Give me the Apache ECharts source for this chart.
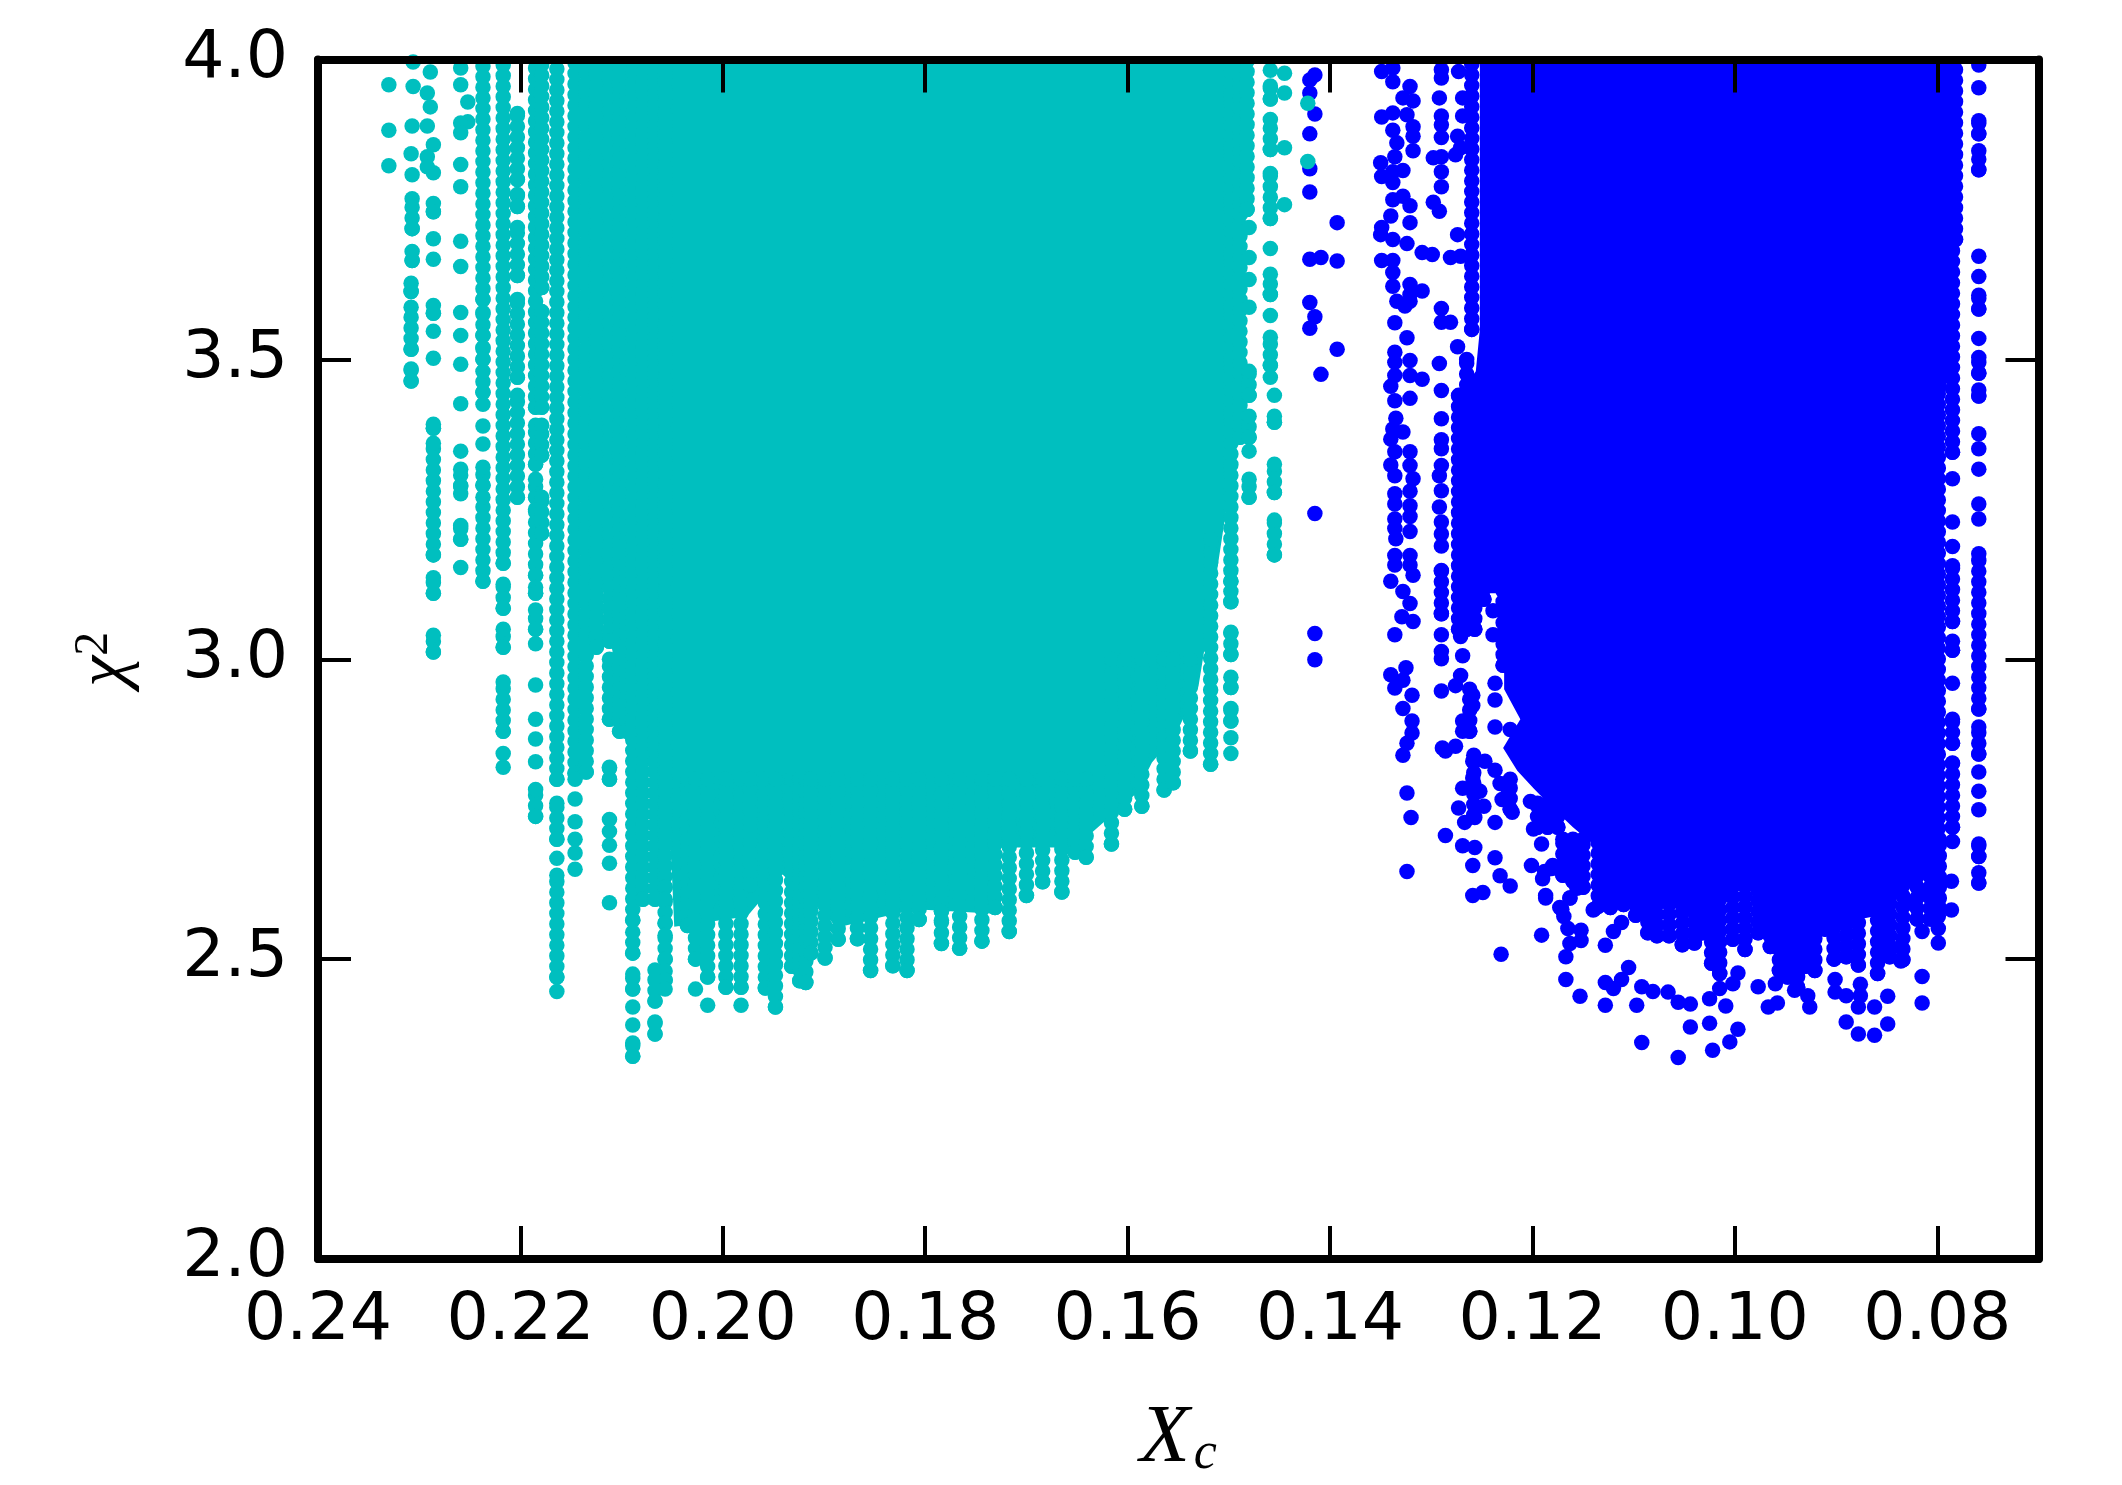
<!DOCTYPE html>
<html><head><meta charset="utf-8">
<style>html,body{margin:0;padding:0;background:#fff}#c{width:2122px;height:1485px}</style>
<script src="https://cdn.jsdelivr.net/npm/echarts@6/dist/echarts.min.js"></script>
</head><body><div id="c"></div>
<script>
const xTickValues = [0.24,0.22,0.20,0.18,0.16,0.14,0.12,0.10,0.08];
const yTickValues = [2.0,2.5,3.0,3.5,4.0];
const xLimits = [0.07,0.24];
const yLimits = [2,4];

// solid body of each cloud: outline of the fully overlapped region [Xc, chi2]
const cyanMass = [[.2133,4.03],[.2133,3.30],[.2112,3.05],[.2100,2.90],[.2082,2.87],[.2070,2.80],[.2055,2.80],[.2050,2.63],[.2048,2.554],[.1976,2.571],[.1941,2.641],[.1886,2.553],[.1810,2.583],[.1735,2.576],[.1727,2.686],[.1652,2.686],[.1591,2.777],[.1576,2.828],[.1553,2.873],[.1530,2.955],[.1512,3.144],[.1497,3.312],[.1489,3.479],[.1489,3.728],[.1482,4.03]];
const blueMass = [[.1252,4.03],[.1252,3.55],[.1256,3.48],[.1272,3.44],[.1272,3.11],[.1228,3.11],[.1228,2.95],[.1212,2.90],[.1229,2.852],[.1215,2.814],[.1199,2.785],[.1180,2.752],[.1160,2.72],[.1146,2.70],[.1135,2.686],[.1135,2.60],[.1110,2.60],[.1081,2.586],[.1032,2.582],[.0986,2.63],[.0977,2.56],[.0914,2.554],[.0842,2.578],[.0840,2.606],[.0815,2.634],[.0799,2.663],[.0799,3.40],[.0785,3.50],[.0782,3.70],[.0782,4.03]];

// runs of touching points in one column: [Xc, top chi2, bottom chi2]
const cyanRuns = [
[.2307,3.768,3.718],[.2307,3.68,3.665],[.2308,3.627,3.613],[.2308,3.587,3.517],[.2308,3.484,3.464],
[.2286,3.76,3.746],[.2286,3.59,3.577],[.2286,3.392,3.385],[.2286,3.36,3.174],[.2286,3.136,3.11],[.2286,3.04,3.012],
[.2259,3.317,3.289],[.2259,3.223,3.20],
[.2237,4.03,3.60],[.2237,3.578,3.54],[.2237,3.52,3.50],[.2237,3.48,3.445],[.2237,3.32,3.29],[.2237,3.27,3.13],
[.2217,4.03,3.16],[.2217,3.125,3.085],[.2217,3.05,3.02],[.2217,2.962,2.88],
[.2203,3.91,3.80],[.2203,3.775,3.755],[.2203,3.72,3.64],[.2203,3.60,3.47],[.2203,3.44,3.27],
[.2185,4.03,3.42],[.2185,3.39,3.325],[.2185,3.30,3.27],[.2185,3.25,3.14],[.2185,3.12,3.11],[.2185,3.082,3.05],[.2185,2.783,2.738],
[.2179,4.03,3.62],[.2179,3.58,3.42],[.2179,3.39,3.34],[.2179,3.27,3.21],
[.2164,4.03,2.80],[.2164,2.76,2.70],[.2164,2.64,2.47],
[.2146,4.03,2.81],[.2135,4.03,2.812],[.2125,4.03,3.02],
[.2112,4.03,3.03],[.2112,3.0,2.90],[.2112,2.82,2.80],[.2102,4.03,2.88],[.2095,4.03,2.88],
[.2089,4.03,2.565],[.2089,2.545,2.51],[.2089,2.475,2.45],[.2089,2.36,2.338],
[.2079,4.03,2.60],[.2067,4.03,2.60],[.2067,2.482,2.43],[.2067,2.395,2.375],
[.2057,4.03,2.62],[.2057,2.60,2.56],[.2057,2.54,2.50],[.2057,2.48,2.465],
[.2035,2.8,2.556],[.2027,2.8,2.50],[.2015,2.8,2.47],[.1997,2.8,2.453],[.1982,2.8,2.453],[.1973,2.8,2.624],[.1958,2.8,2.452],[.1948,2.8,2.42],[.1932,2.8,2.488],[.1924,2.8,2.464],[.1918,2.8,2.461],[.1913,2.8,2.51],[.1899,2.8,2.502],[.1886,2.8,2.533],[.1867,2.8,2.534],[.1854,2.8,2.481],[.1832,2.8,2.489],[.1818,2.8,2.481],[.1806,2.8,2.566],[.1784,2.8,2.58],[.1784,2.565,2.526],[.1766,2.8,2.518],[.1744,2.8,2.53],[.1731,2.8,2.586],[.1717,2.8,2.546],[.1700,2.8,2.606],[.1684,2.8,2.629],[.1665,2.8,2.612],[.1652,2.8,2.678],[.1641,2.8,2.67],[.1616,3,2.692],[.1603,3,2.75],[.1586,3,2.755],[.1564,3,2.782],[.1555,3,2.794],[.1538,3,2.847],[.1518,3.2,2.825],
[.1498,4.03,3.13],[.1498,3.113,3.096],[.1498,3.045,3.008],[.1498,2.97,2.953],[.1498,2.918,2.897],
[.1489,4.03,3.37],[.1482,4.03,3.75],[.1480,3.48,3.44],[.1480,3.405,3.37],[.1480,3.30,3.27],
[.1459,3.956,3.934],[.1459,3.90,3.85],[.1459,3.81,3.735],[.1459,3.642,3.608],[.1459,3.537,3.49],
[.1455,3.405,3.395],[.1455,3.325,3.278],[.1455,3.232,3.174]
];
const blueRuns = [
[.1260,4.03,3.55],[.1265,3.50,3.44],[.1273,3.44,3.05],[.1265,3.14,3.05],[.1257,3.14,3.05],[.1248,3.14,3.10],[.1229,3.13,2.99],
[.1262,2.95,2.88],[.1258,2.84,2.74],[.1222,2.80,2.75],[.1195,2.76,2.72],[.1185,2.76,2.72],[.1175,2.76,2.72],[.1170,2.70,2.64],[.1160,2.70,2.63],[.1150,2.70,2.62],[.1130,2.70,2.60],[.1115,2.70,2.60],
[.1135,2.7,2.588],[.1123,2.7,2.586],[.1110,2.7,2.591],[.1098,2.7,2.573],[.1086,2.7,2.544],[.1077,2.7,2.539],[.1065,2.7,2.539],[.1052,2.7,2.524],[.1040,2.7,2.527],[.1032,2.7,2.544],[.1023,2.7,2.493],[.1015,2.7,2.476],[.1002,2.7,2.533],[.0990,2.7,2.516],[.0977,2.7,2.544],[.0965,2.7,2.521],[.0956,2.7,2.481],[.0948,2.7,2.47],[.0938,2.7,2.453],[.0930,2.7,2.488],[.0921,2.7,2.481],[.0911,2.7,2.55],[.0902,2.7,2.50],[.0890,2.7,2.504],[.0878,2.7,2.49],[.0859,2.7,2.476],[.0847,2.7,2.504],[.0834,2.7,2.499],[.0820,2.7,2.567],[.0807,2.7,2.567],[.0798,2.7,2.584],
[.0799,3.53,2.70],[.0782,4.03,3.70],
[.0785,3.70,3.345],[.0785,3.156,3.063],[.0785,3.03,3.015],[.0785,2.90,2.86],[.0785,2.827,2.72],
[.0759,3.898,3.876],[.0759,3.848,3.816],[.0759,3.607,3.584],[.0759,3.503,3.477],[.0759,3.449,3.439],[.0759,3.176,2.917],[.0759,2.887,2.842],[.0759,2.692,2.671],[.0759,2.644,2.627],
[.1290,3.148,3.076]
];

// separate points: [Xc, chi2]
const cyanDots = [
[.2330,3.958],[.2330,3.882],[.2330,3.823],
[.2306,3.955],[.2307,3.889],[.2308,3.843],[.2307,3.808],[.2306,3.996],
[.2289,3.979],[.2292,3.944],[.2289,3.921],[.2292,3.889],[.2286,3.858],[.2292,3.838],[.2286,3.811],[.2292,3.821],
[.2286,3.701],[.2286,3.667],[.2286,3.547],[.2286,3.502],
[.2259,3.986],[.2259,3.958],[.2252,3.929],[.2252,3.896],[.2259,3.894],[.2259,3.878],[.2259,3.825],[.2259,3.788],[.2259,3.697],[.2259,3.655],[.2259,3.578],[.2259,3.540],[.2259,3.492],[.2259,3.426],[.2259,3.347],[.2259,3.276],[.2259,3.153],
[.2237,3.425],[.2237,3.389],[.2237,3.359],
[.2217,2.843],[.2217,2.82],
[.2185,3.026],[.2185,2.957],[.2185,2.90],[.2185,2.867],[.2185,2.829],
[.2164,2.668],[.2164,2.446],
[.2146,2.80],[.2146,2.767],[.2146,2.729],[.2146,2.70],[.2146,2.677],[.2146,2.65],
[.2112,2.733],[.2112,2.713],[.2112,2.69],[.2112,2.66],[.2112,2.594],
[.2089,2.42],[.2089,2.39],[.2057,2.45],
[.2027,2.45],[.2015,2.423],[.1982,2.423],
[.1498,2.869],[.1498,2.843],
[.1480,3.72],[.1480,3.67],[.1480,3.633],[.1480,3.587],[.1480,3.347],
[.1459,3.982],[.1459,3.685],[.1459,3.573],[.1459,3.47],[.1455,3.44],
[.1445,3.977],[.1445,3.944],[.1445,3.853],[.1445,3.758],
[.1422,3.927],[.1422,3.83]
];
const blueDots = [
[.1415,3.974],[.1420,3.966],[.1420,3.944],[.1415,3.909],[.1420,3.876],[.1420,3.818],[.1420,3.779],[.1393,3.728],[.1420,3.667],[.1409,3.670],[.1393,3.664],[.1420,3.595],[.1415,3.571],[.1420,3.552],[.1393,3.517],[.1409,3.475],[.1415,3.243],[.1415,3.043],[.1415,2.999],
[.1349,3.980],[.1338,3.986],[.1338,3.963],[.1321,3.955],[.1328,3.936],[.1318,3.931],[.1349,3.904],[.1338,3.911],[.1324,3.908],[.1338,3.882],[.1318,3.888],[.1318,3.872],[.1334,3.861],[.1318,3.848],[.1336,3.838],[.1350,3.828],[.1328,3.815],[.1349,3.805],[.1338,3.813],[.1338,3.795],[.1338,3.766],[.1328,3.772],[.1321,3.756],[.1340,3.739],[.1321,3.728],[.1349,3.720],[.1350,3.708],[.1338,3.700],[.1324,3.693],[.1309,3.678],[.1299,3.675],[.1349,3.665],[.1338,3.665],[.1338,3.645],[.1338,3.622],[.1321,3.625],[.1309,3.614],[.1321,3.608],
[.1290,3.983],[.1290,3.969],[.1292,3.936],[.1290,3.906],[.1290,3.891],[.1290,3.870],[.1298,3.836],[.1290,3.838],[.1290,3.813],[.1290,3.788],[.1298,3.762],[.1292,3.747],
[.1274,3.872],[.1271,3.853],[.1276,3.841],[.1274,3.708],[.1281,3.670],[.1271,3.672],[.1273,3.980],[.1269,3.936],[.1269,3.906],
[.1334,3.597],[.1326,3.589],[.1321,3.597],[.1336,3.561],[.1324,3.536],[.1336,3.512],[.1321,3.498],[.1336,3.495],[.1336,3.473],[.1321,3.473],[.1309,3.467],[.1340,3.455],[.1336,3.431],[.1321,3.435],[.1335,3.402],[.1338,3.384],[.1328,3.379],[.1340,3.367],[.1336,3.346],[.1321,3.346],[.1340,3.324],[.1321,3.323],[.1336,3.306],[.1318,3.301],[.1336,3.276],[.1321,3.280],[.1336,3.259],[.1321,3.256],[.1336,3.234],[.1321,3.238],[.1336,3.218],[.1321,3.213],[.1335,3.201],[.1336,3.173],[.1321,3.173],
[.1290,3.585],[.1290,3.562],[.1281,3.562],[.1274,3.521],[.1292,3.493],[.1290,3.448],[.1290,3.401],[.1290,3.366],[.1290,3.351],[.1290,3.323],[.1292,3.306],[.1290,3.281],[.1292,3.254],[.1290,3.229],[.1290,3.209],[.1290,3.189],
[.1290,3.041],[.1290,3.013],[.1290,3.001],[.1290,2.947],[.1289,2.852],[.1286,2.847],
[.1336,3.157],[.1321,3.157],[.1340,3.130],[.1318,3.140],[.1328,3.113],[.1321,3.093],[.1329,3.071],[.1318,3.063],[.1336,3.041],[.1325,2.986],[.1340,2.974],[.1328,2.965],[.1336,2.952],[.1319,2.940],[.1328,2.918],[.1319,2.897],[.1319,2.877],[.1324,2.860],[.1328,2.840],[.1324,2.777],[.1320,2.736],[.1324,2.646],
[.1286,2.706],[.1273,2.752],[.1269,2.785],[.1259,2.802],[.1267,2.728],[.1257,2.736],[.1237,2.728],[.1269,2.689],[.1257,2.686],[.1259,2.656],[.1237,2.669],[.1232,2.639],[.1222,2.622],[.1201,2.656],[.1259,2.606],[.1249,2.611],[.1187,2.602],[.1139,2.583],[.1171,2.583],[.1163,2.602],
[.1271,3.038],[.1269,3.006],[.1271,2.973],[.1276,2.956],[.1259,2.94],[.1259,2.923],[.1269,2.897],[.1269,2.88],[.1276,2.855],[.1259,2.83],[.1252,2.78],[.1248,2.755],
[.1239,3.081],[.1239,3.041],[.1237,2.960],[.1237,2.932],[.1237,2.887],[.1222,2.883],[.1205,2.877],
[.1247,2.83],[.1237,2.815],[.1232,2.793],[.1224,2.777],[.1230,2.766],[.1220,2.745],[.1202,2.763],[.1199,2.717],[.1191,2.692],[.1188,2.646],[.1180,2.656],[.1165,2.674],[.1154,2.651],[.1154,2.629],[.1190,2.634],[.1181,2.651],
[.1231,2.508],[.1191,2.540],[.1167,2.466],[.1153,2.438],[.1128,2.423],[.1097,2.423],[.1128,2.523],[.1120,2.546],[.1112,2.561],[.1140,2.582],[.1187,2.606],
[.1167,2.504],[.1163,2.526],[.1152,2.531],[.1152,2.548],[.1165,2.551],[.1169,2.571],[.1173,2.586],[.1163,2.602],[.1156,2.618],
[.1105,2.486],[.1112,2.466],[.1128,2.461],[.1120,2.451],[.1092,2.454],[.1081,2.446],[.1066,2.445],[.1092,2.361],[.1056,2.336],[.1044,2.387],[.1025,2.393],[.0997,2.383],[.1005,2.362],[.1022,2.348],[.1056,2.428],[.1044,2.425],[.1025,2.434],[.1009,2.422],[.1015,2.451],[.1002,2.459],[.0997,2.477],[.0977,2.454],[.0960,2.459],[.0967,2.420],[.0958,2.427],[.0926,2.420],[.0928,2.439],[.0941,2.448],[.0901,2.466],[.0901,2.445],[.0890,2.439],[.0876,2.458],[.0876,2.439],[.0878,2.420],[.0862,2.420],[.0849,2.438],[.0890,2.395],[.0878,2.375],[.0862,2.373],[.0849,2.392],[.0815,2.471],[.0815,2.427],[.0836,2.520],[.0836,2.497],[.0815,2.546],[.0799,2.551],[.0799,2.527],[.0786,2.582],[.0786,2.63],[.0799,2.571],[.0799,2.59],[.0828,2.594],[.0811,2.61],
[.0785,3.301],[.0785,3.229],[.0785,3.188],[.0785,2.96],[.0785,2.696],
[.0759,3.991],[.0759,3.953],[.0759,3.672],[.0759,3.638],[.0759,3.535],[.0759,3.376],[.0759,3.351],[.0759,3.317],[.0759,3.259],[.0759,3.234],[.0759,2.812],[.0759,2.78],[.0759,2.749]
];

const DOT = 15.5;
const massSeries = (arr, color, z) => ({
  type:'custom', data:arr, clip:true, z, silent:true,
  encode:{x:0,y:1},
  renderItem:(p,api)=> p.dataIndex===0 ? {
    type:'polygon', shape:{points:arr.map(v=>api.coord(v))}, style:{fill:color}
  } : null
});
const runSeries = (arr, color, z) => ({
  type:'custom', data:arr, clip:true, z, silent:true,
  encode:{x:0,y:[1,2]},
  renderItem:(p,api)=>{
    const a=api.coord([api.value(0),api.value(1)]), b=api.coord([api.value(0),api.value(2)]);
    const end=c=>({type:'circle',shape:{cx:c[0],cy:c[1],r:DOT/2},style:{fill:color}});
    return {type:'group',children:[
      {type:'line',shape:{x1:b[0],y1:b[1],x2:a[0],y2:a[1]},
       style:{stroke:color,lineWidth:DOT,lineCap:'round',lineDash:[0.1,10.5],fill:null}},
      end(a),end(b)
    ]};
  }
});
const dotSeries = (arr, color, z) => ({
  type:'scatter', data:arr, symbol:'circle', symbolSize:DOT, z, silent:true,
  itemStyle:{color,opacity:1}, clip:true, large:false, animation:false
});
const BLUE='#0000FF', CYAN='#00BFBF';
const fontTicks='"DejaVu Sans"';
const spine={show:true,onZero:false,lineStyle:{color:'#000',width:8}};
const tick={show:true,inside:true,length:33,lineStyle:{color:'#000',width:4}};
const base={type:'value',splitLine:{show:false},minorTick:{show:false},z:10,axisLine:spine};

const chart=echarts.init(document.getElementById('c'),null,{renderer:'canvas'});
chart.setOption({
  animation:false, backgroundColor:'#fff',
  grid:{left:318,right:83.5,top:59.5,bottom:223,containLabel:false},
  xAxis:[
    {...base,position:'bottom',inverse:true,min:xLimits[0],max:xLimits[1],
     axisTick:{...tick,customValues:xTickValues},
     axisLabel:{show:true,customValues:xTickValues,formatter:v=>v.toFixed(2),color:'#000',
       fontFamily:fontTicks,fontSize:66.5,margin:29,hideOverlap:false},
     name:'{x|X}{c|c}',nameLocation:'middle',nameGap:139,
     nameTextStyle:{rich:{
       x:{fontFamily:'"Liberation Serif"',fontStyle:'italic',fontSize:82,color:'#000',verticalAlign:'top'},
       c:{fontFamily:'"Liberation Serif"',fontStyle:'italic',fontSize:52,color:'#000',verticalAlign:'bottom',padding:[30,0,0,4]}
     }}},
    {...base,position:'top',inverse:true,min:xLimits[0],max:xLimits[1],
     axisTick:{...tick,customValues:xTickValues},axisLabel:{show:false}}
  ],
  yAxis:[
    {...base,position:'left',min:yLimits[0],max:yLimits[1],
     axisTick:{...tick,customValues:yTickValues},
     axisLabel:{show:true,customValues:yTickValues,formatter:v=>v.toFixed(1),color:'#000',
       fontFamily:fontTicks,fontSize:66.5,margin:30,padding:[0,0,8,0],hideOverlap:false},
     name:'{x|χ}{s|2}',nameLocation:'middle',nameGap:176,nameRotate:90,
     nameTextStyle:{rich:{
       x:{fontFamily:'"Liberation Serif"',fontStyle:'italic',fontSize:70,color:'#000'},
       s:{fontFamily:'"Liberation Serif"',fontSize:48,color:'#000',verticalAlign:'top',padding:[0,0,24,0]}
     }}},
    {...base,position:'right',min:yLimits[0],max:yLimits[1],
     axisTick:{...tick,customValues:yTickValues},axisLabel:{show:false}}
  ],
  series:[
    massSeries(blueMass,BLUE,2), runSeries(blueRuns,BLUE,2), dotSeries(blueDots,BLUE,2),
    massSeries(cyanMass,CYAN,3), runSeries(cyanRuns,CYAN,3), dotSeries(cyanDots,CYAN,3)
  ]
});
</script></body></html>
